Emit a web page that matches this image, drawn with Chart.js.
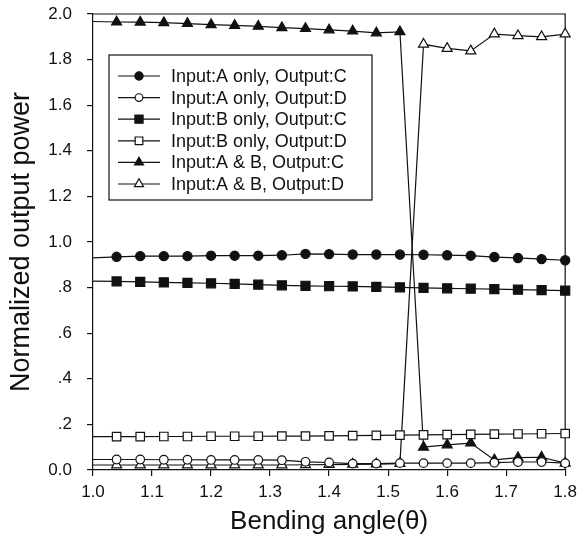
<!DOCTYPE html>
<html lang="en">
<head>
<meta charset="UTF-8">
<title>Normalized output power vs bending angle</title>
<script src="https://cdn.jsdelivr.net/npm/chart.js"></script>
<style>
  html, body { margin: 0; padding: 0; background: #fff; }
</style>
</head>
<body>
<canvas id="chart" width="583" height="554"></canvas>
<script>
// bending angle (x) - first point sits on the y axis, no marker drawn there
const angles = [1.00, 1.04, 1.08, 1.12, 1.16, 1.20, 1.24, 1.28, 1.32, 1.36, 1.40,
                1.44, 1.48, 1.52, 1.56, 1.60, 1.64, 1.68, 1.72, 1.76, 1.80];

const aOnlyC = [0.930, 0.935, 0.938, 0.938, 0.938, 0.940, 0.940, 0.940, 0.942, 0.948, 0.947,
                0.945, 0.945, 0.945, 0.944, 0.942, 0.940, 0.934, 0.930, 0.925, 0.920];
const aOnlyD = [0.046, 0.046, 0.046, 0.045, 0.045, 0.044, 0.044, 0.044, 0.043, 0.036, 0.033,
                0.028, 0.028, 0.030, 0.030, 0.030, 0.030, 0.032, 0.035, 0.035, 0.030];
const bOnlyC = [0.828, 0.827, 0.825, 0.823, 0.821, 0.819, 0.816, 0.813, 0.810, 0.808, 0.806,
                0.805, 0.803, 0.801, 0.799, 0.797, 0.795, 0.793, 0.791, 0.789, 0.787];
const bOnlyD = [0.146, 0.146, 0.146, 0.147, 0.147, 0.148, 0.148, 0.148, 0.149, 0.149, 0.150,
                0.151, 0.152, 0.153, 0.154, 0.155, 0.156, 0.157, 0.158, 0.159, 0.160];
const abC    = [1.967, 1.965, 1.964, 1.962, 1.958, 1.953, 1.950, 1.946, 1.940, 1.936, 1.930,
                1.925, 1.917, 1.922, 0.100, 0.110, 0.118, 0.044, 0.054, 0.056, 0.030];
const abD    = [0.022, 0.022, 0.022, 0.022, 0.022, 0.022, 0.022, 0.022, 0.022, 0.023, 0.024,
                0.025, 0.026, 0.028, 1.867, 1.849, 1.838, 1.912, 1.905, 1.900, 1.912];

const seriesLabels = [
    'Input:A only, Output:C',
    'Input:A only, Output:D',
    'Input:B only, Output:C',
    'Input:B only, Output:D',
    'Input:A & B, Output:C',
    'Input:A & B, Output:D'
];

const xTickLabels = ['1.0', '1.1', '1.2', '1.3', '1.4', '1.5', '1.6', '1.7', '1.8'];
const yTickLabels = ['0.0', '.2', '.4', '.6', '.8', '1.0', '1.2', '1.4', '1.6', '1.8', '2.0'];

const FONT = "Arial, 'Liberation Sans', sans-serif";
const INK = '#111';

function toPoints(values) {
    return angles.map((a, i) => ({ x: a, y: values[i] }));
}

function makeSet(label, values, style, radius, filled) {
    return {
        label: label,
        data: toPoints(values),
        borderColor: INK,
        borderWidth: 1.2,
        pointStyle: style,
        pointRadius: ctx => ctx.dataIndex === 0 ? 0 : radius,
        pointBackgroundColor: filled ? INK : '#fff',
        pointBorderColor: INK,
        pointBorderWidth: 1.2,
        legendRadius: radius,
        tension: 0,
        clip: false
    };
}

// top and right edges of the plot box
const framePlugin = {
    id: 'frame',
    beforeDatasetsDraw(chart) {
        const { ctx, chartArea: a } = chart;
        ctx.save();
        ctx.strokeStyle = INK;
        ctx.lineWidth = 1.2;
        ctx.beginPath();
        ctx.moveTo(a.left, a.top);
        ctx.lineTo(a.right, a.top);
        ctx.lineTo(a.right, a.bottom);
        ctx.stroke();
        ctx.restore();
    }
};

// boxed legend inside the plot, like the original figure
const boxLegend = {
    id: 'boxLegend',
    afterDraw(chart) {
        const ctx = chart.ctx;
        const left = 109, top = 55, width = 263, height = 145;
        const rowH = 21.6, firstRow = 76;
        ctx.save();
        ctx.fillStyle = '#fff';
        ctx.fillRect(left, top, width, height);
        ctx.strokeStyle = INK;
        ctx.lineWidth = 1.2;
        ctx.strokeRect(left, top, width, height);

        chart.data.datasets.forEach((ds, i) => {
            const y = firstRow + i * rowH;
            ctx.strokeStyle = INK;
            ctx.lineWidth = 1.2;
            ctx.beginPath();
            ctx.moveTo(118, y);
            ctx.lineTo(160, y);
            ctx.stroke();

            ctx.fillStyle = ds.pointBackgroundColor;
            ctx.strokeStyle = INK;
            ctx.lineWidth = 1.2;
            Chart.helpers.drawPoint(ctx, {
                pointStyle: ds.pointStyle,
                radius: ds.legendRadius * 0.9,
                rotation: 0,
                borderWidth: 1.2
            }, 139, y);

            ctx.fillStyle = INK;
            ctx.font = '18px ' + FONT;
            ctx.textBaseline = 'middle';
            ctx.textAlign = 'left';
            ctx.fillText(ds.label, 171, y + 1);
        });
        ctx.restore();
    }
};

const chart = new Chart(document.getElementById('chart').getContext('2d'), {
    type: 'line',
    data: {
        datasets: [
            makeSet(seriesLabels[0], aOnlyC, 'circle', 4.6, true),
            makeSet(seriesLabels[1], aOnlyD, 'circle', 4.3, false),
            makeSet(seriesLabels[2], bOnlyC, 'rect', 6.4, true),
            makeSet(seriesLabels[3], bOnlyD, 'rect', 6.0, false),
            makeSet(seriesLabels[4], abC, 'triangle', 5.8, true),
            makeSet(seriesLabels[5], abD, 'triangle', 5.8, false)
        ]
    },
    options: {
        responsive: false,
        animation: false,
        devicePixelRatio: 1,
        layout: { padding: { top: 14, right: 17, left: 0, bottom: 0 } },
        plugins: {
            legend: { display: false },
            tooltip: { enabled: false }
        },
        scales: {
            x: {
                type: 'linear',
                min: 1.0,
                max: 1.8,
                afterFit(scale) { scale.height = 84; },
                ticks: {
                    stepSize: 0.1,
                    color: INK,
                    padding: 6,
                    maxRotation: 0,
                    font: { family: FONT, size: 17 },
                    callback: v => xTickLabels[Math.round((v - 1.0) * 10)]
                },
                grid: { drawOnChartArea: false, drawTicks: true, tickLength: 6, color: INK, lineWidth: 1.2 },
                border: { display: true, color: INK, width: 1.2 },
                title: {
                    display: true,
                    text: 'Bending angle(\u03b8)',
                    color: INK,
                    font: { family: FONT, size: 26 },
                    padding: { top: 0, bottom: 17 }
                }
            },
            y: {
                min: 0,
                max: 2,
                afterFit(scale) {
                    scale.width = 93;
                    // keep the label overhang from pushing the plot down
                    scale.paddingTop = 0;
                    scale.paddingBottom = 0;
                },
                ticks: {
                    stepSize: 0.2,
                    color: INK,
                    padding: 15,
                    font: { family: FONT, size: 17 },
                    callback: v => yTickLabels[Math.round(v * 5)]
                },
                grid: { drawOnChartArea: false, drawTicks: true, tickLength: 6, color: INK, lineWidth: 1.2 },
                border: { display: true, color: INK, width: 1.2 },
                title: {
                    display: true,
                    text: 'Normalized output power',
                    color: INK,
                    font: { family: FONT, size: 27 },
                    padding: { top: 5, bottom: 0 }
                }
            }
        }
    },
    plugins: [framePlugin, boxLegend]
});
</script>
</body>
</html>
